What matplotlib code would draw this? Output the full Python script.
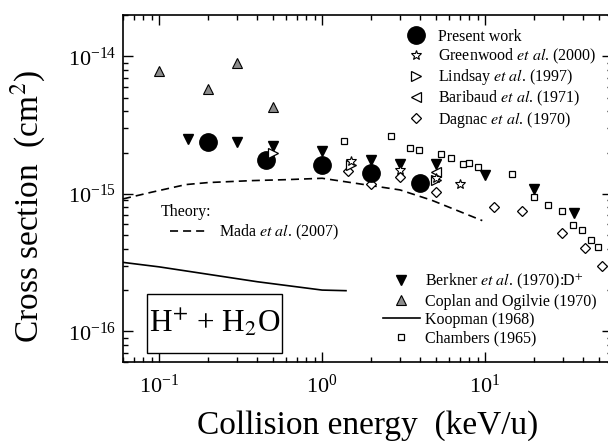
import numpy as np
import matplotlib
matplotlib.use('Agg')
import matplotlib.pyplot as plt
from matplotlib.lines import Line2D
from matplotlib.patches import Rectangle
from matplotlib.ticker import FixedLocator, LogLocator, NullFormatter

plt.rcParams['font.family'] = ['Liberation Serif', 'DejaVu Serif']
plt.rcParams['mathtext.fontset'] = 'stix'
plt.rcParams['lines.scale_dashes'] = False

# present work
pw_x = [0.2, 0.45, 1.0, 2.0, 4.0]
pw_y = [2.37e-15, 1.77e-15, 1.63e-15, 1.42e-15, 1.20e-15]

# Greenwood et al. (2000)
gw_x = [1.5, 3.0, 5.0, 7.0]
gw_y = [1.74e-15, 1.49e-15, 1.31e-15, 1.19e-15]

# Lindsay et al. (1997)
li_x = [0.5, 1.5, 5.0]
li_y = [2.0e-15, 1.63e-15, 1.27e-15]

# Baribaud et al. (1971)
ba_x = [5.0]
ba_y = [1.44e-15]

# Dagnac et al. (1970)
da_x = [1.45, 2.0, 3.0, 5.0, 11.4, 16.8, 29.5, 41, 52]
da_y = [1.46e-15, 1.18e-15, 1.33e-15, 1.03e-15, 8.1e-16, 7.5e-16, 5.16e-16, 4.04e-16, 3.0e-16]

# Berkner et al. (1970): D+
be_x = [0.15, 0.3, 0.5, 1.0, 2.0, 3.0, 5.0, 10.0, 20.0, 35.0]
be_y = [2.52e-15, 2.37e-15, 2.25e-15, 2.04e-15, 1.77e-15, 1.66e-15, 1.66e-15, 1.38e-15, 1.09e-15, 7.3e-16]

# Coplan and Ogilvie (1970)
co_x = [0.1, 0.2, 0.3, 0.5]
co_y = [7.8e-15, 5.8e-15, 8.9e-15, 4.3e-15]

# Koopman (1968)
ko_x = [0.06, 0.1, 0.4, 1.0, 1.4]
ko_y = [3.18e-16, 2.95e-16, 2.3e-16, 2.0e-16, 1.98e-16]

# Chambers (1965)
ch_x = [1.37, 2.66, 3.44, 3.91, 5.38, 6.17, 7.27, 8.0, 9.0, 14.7, 19.8, 24.4, 29.5, 34.4, 39.5, 44.4, 49.0]
ch_y = [2.44e-15, 2.65e-15, 2.16e-15, 2.10e-15, 1.95e-15, 1.84e-15, 1.65e-15, 1.69e-15, 1.58e-15,
        1.40e-15, 9.5e-16, 8.35e-16, 7.46e-16, 5.9e-16, 5.5e-16, 4.65e-16, 4.11e-16]

# Mada et al. (2007) theory
ma_x = [0.06, 0.09, 0.146, 0.2, 0.37, 0.6, 1.0, 1.5, 3.0, 4.7, 9.6]
ma_y = [9.2e-16, 1.03e-15, 1.17e-15, 1.21e-15, 1.25e-15, 1.27e-15, 1.30e-15, 1.21e-15, 1.07e-15, 9.0e-16, 6.4e-16]

xticks = [0.1, 1, 10]
yticks = [1e-16, 1e-15, 1e-14]

W, H = 608, 441
fig = plt.figure(figsize=(W / 100, H / 100), dpi=100)
ax = fig.add_axes([123 / W, 79 / H, (612 - 123) / W, (362 - 15) / H])

dash = (5.8, 3.6)
ax.plot(ma_x, ma_y, color='black', lw=1.2, dashes=dash)
ax.plot(ko_x, ko_y, color='black', lw=1.2)

ax.plot(ch_x, ch_y, 's', ms=5, mfc='white', mec='black', mew=0.9, ls='none')
ax.plot(da_x, da_y, 'D', ms=5.5, mfc='white', mec='black', mew=0.9, ls='none')
ax.plot(co_x, co_y, '^', ms=7, mfc='#8c8c8c', mec='black', mew=0.8, ls='none')
ax.plot(be_x, be_y, 'v', ms=7.5, mfc='black', mec='black', ls='none')
ax.plot(pw_x, pw_y, 'o', ms=12.5, mfc='black', mec='black', ls='none')
ax.plot(ba_x, ba_y, '<', ms=6.5, mfc='white', mec='black', mew=0.9, ls='none')
ax.plot(li_x, li_y, '>', ms=6.5, mfc='white', mec='black', mew=0.9, ls='none')
ax.plot(gw_x, gw_y, '*', ms=7, mfc='white', mec='black', mew=0.8, ls='none')

ax.set_xscale('log')
ax.set_yscale('log')
ax.set_xlim(0.06, 60)
ax.set_ylim(6e-17, 2e-14)
ax.xaxis.set_major_locator(FixedLocator(xticks))
ax.yaxis.set_major_locator(FixedLocator(yticks))
ax.xaxis.set_minor_locator(LogLocator(subs=np.arange(2, 10)))
ax.yaxis.set_minor_locator(LogLocator(subs=np.arange(2, 10)))
ax.xaxis.set_minor_formatter(NullFormatter())
ax.yaxis.set_minor_formatter(NullFormatter())

ax.tick_params(which='both', direction='in', top=True, right=True, labelsize=16, width=1.0)
ax.tick_params(which='major', length=7)
ax.tick_params(which='minor', length=3.5)
ax.tick_params(axis='x', which='major', pad=9)
ax.tick_params(axis='y', which='major', pad=5)
for s in ax.spines.values():
    s.set_linewidth(1.2)

ax.set_xlabel('Collision energy  (keV/u)', fontsize=24)
ax.xaxis.set_label_coords(0.5, (362 - 426) / 347, transform=ax.transAxes)
ax.set_ylabel('Cross section  (cm$^2$)', fontsize=24)
ax.yaxis.set_label_coords((28 - 123) / 489, (362 - 207) / 347)
ax.xaxis.label.set_va('center')
ax.yaxis.label.set_va('center')

fs = 11.5
h1 = [
    Line2D([], [], marker='o', ms=12.5, color='black', ls='none'),
    Line2D([], [], marker='*', ms=7, mfc='white', mec='black', mew=0.8, ls='none'),
    Line2D([], [], marker='>', ms=6.5, mfc='white', mec='black', mew=0.9, ls='none'),
    Line2D([], [], marker='<', ms=6.5, mfc='white', mec='black', mew=0.9, ls='none'),
    Line2D([], [], marker='D', ms=5.5, mfc='white', mec='black', mew=0.9, ls='none'),
]
l1 = ['Present work',
      r'Greenwood $\it{et\ al}$. (2000)',
      r'Lindsay $\it{et\ al}$. (1997)',
      r'Baribaud $\it{et\ al}$. (1971)',
      r'Dagnac $\it{et\ al}$. (1970)']
leg1 = fig.legend(h1, l1, loc='upper left', bbox_to_anchor=(404 / W, 1 - 29 / H),
                  frameon=False, fontsize=fs, handlelength=1.5, handletextpad=0.6,
                  labelspacing=0.1, borderpad=0, borderaxespad=0)

h2 = [
    Line2D([], [], marker='v', ms=7.5, color='black', ls='none'),
    Line2D([], [], marker='^', ms=7, mfc='#8c8c8c', mec='black', mew=0.8, ls='none'),
    Line2D([], [], color='black', lw=1.2),
    Line2D([], [], marker='s', ms=5, mfc='white', mec='black', mew=0.9, ls='none'),
]
l2 = [r'Berkner $\it{et\ al}$. (1970):D$^{+}$',
      'Coplan and Ogilvie (1970)',
      'Koopman (1968)',
      'Chambers (1965)']
leg2 = fig.legend(h2, l2, loc='upper left', bbox_to_anchor=(383 / W, 1 - 272 / H),
                  frameon=False, fontsize=fs, handlelength=2.3, handletextpad=0.3,
                  labelspacing=0.15, borderpad=0, borderaxespad=0)

h3 = [Line2D([], [], color='black', lw=1.2, dashes=dash)]
leg3 = fig.legend(h3, [r'Mada $\it{et\ al}$. (2007)'], loc='upper left',
                  bbox_to_anchor=(170 / W, 1 - 223 / H), frameon=False, fontsize=fs,
                  handlelength=2.3, handletextpad=0.75, borderpad=0, borderaxespad=0)
fig.text(161 / W, 1 - 212 / H, 'Theory:', fontsize=fs, va='center', ha='left')

fig.patches.append(Rectangle((147 / W, 1 - 353 / H), 135 / W, 59 / H,
                             transform=fig.transFigure, fc='white', ec='black', lw=1.0))
fig.text(215 / W, 1 - 323 / H, r'H$^{+}$ + H$_{2}$O', fontsize=22.5, ha='center', va='center')

fig.savefig('out.png', dpi=100)
